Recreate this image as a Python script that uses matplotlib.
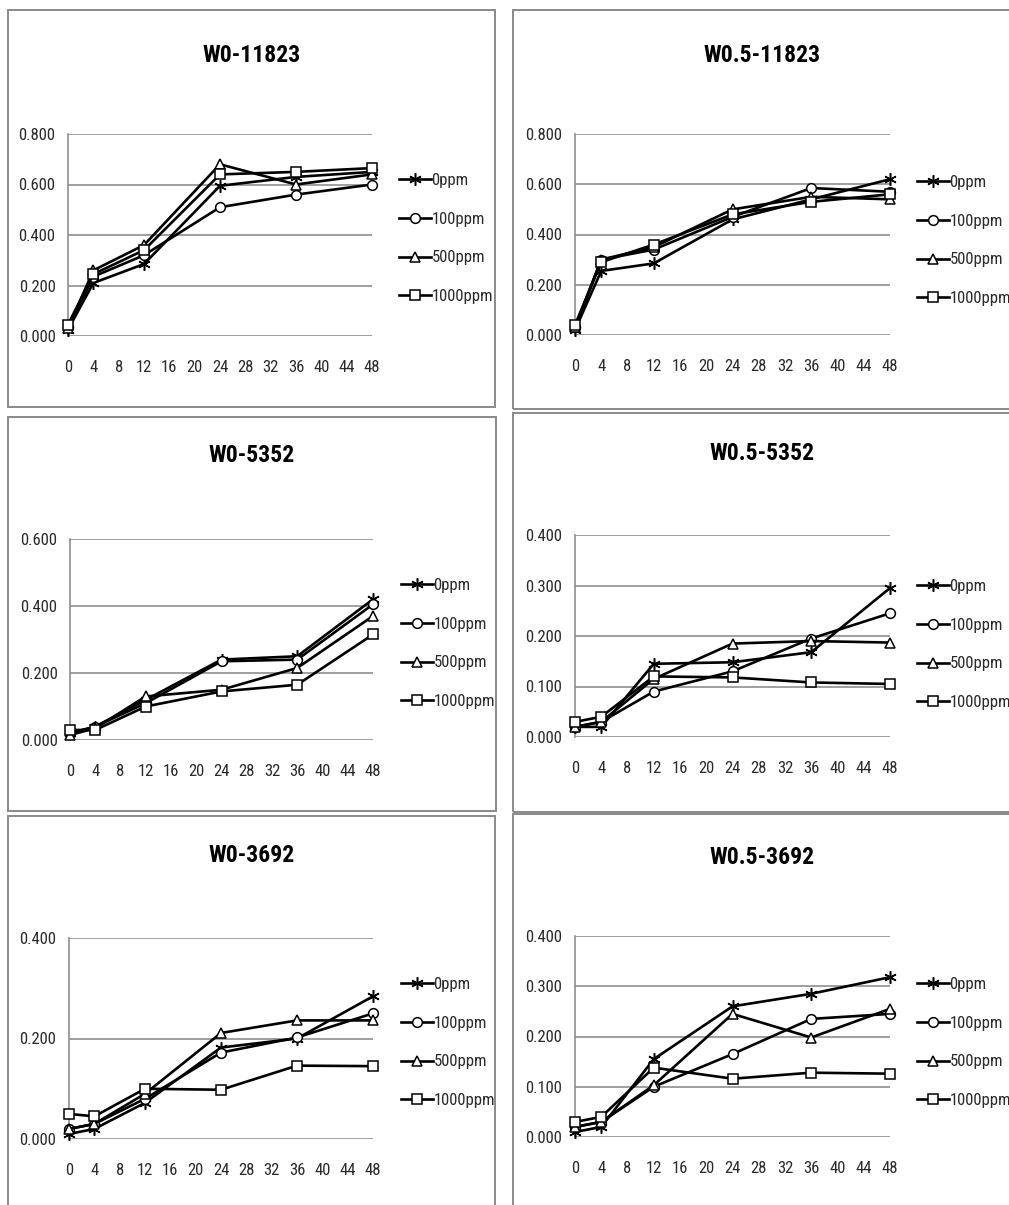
import matplotlib
matplotlib.use("Agg")
import matplotlib.pyplot as plt
from matplotlib.patches import Rectangle
from matplotlib import font_manager as fm

# ---------------- data ----------------
hours = [0, 4, 12, 24, 36, 48]
series_labels = ["0ppm", "100ppm", "500ppm", "1000ppm"]
x_ticks = list(range(0, 49, 4))

titles = ["W0-11823", "W0.5-11823", "W0-5352", "W0.5-5352", "W0-3692", "W0.5-3692"]

w0_11823_0 = [0.025, 0.210, 0.285, 0.595, 0.630, 0.650]
w0_11823_100 = [0.035, 0.235, 0.320, 0.510, 0.560, 0.600]
w0_11823_500 = [0.030, 0.260, 0.360, 0.680, 0.600, 0.640]
w0_11823_1000 = [0.045, 0.245, 0.340, 0.640, 0.650, 0.665]

w05_11823_0 = [0.020, 0.255, 0.285, 0.460, 0.540, 0.620]
w05_11823_100 = [0.030, 0.300, 0.340, 0.470, 0.585, 0.570]
w05_11823_500 = [0.030, 0.300, 0.350, 0.500, 0.550, 0.540]
w05_11823_1000 = [0.040, 0.290, 0.360, 0.480, 0.530, 0.560]

w0_5352_0 = [0.020, 0.040, 0.120, 0.240, 0.250, 0.420]
w0_5352_100 = [0.020, 0.040, 0.110, 0.235, 0.240, 0.405]
w0_5352_500 = [0.015, 0.035, 0.130, 0.150, 0.215, 0.370]
w0_5352_1000 = [0.030, 0.030, 0.100, 0.145, 0.165, 0.315]

w05_5352_0 = [0.020, 0.020, 0.145, 0.148, 0.168, 0.295]
w05_5352_100 = [0.020, 0.030, 0.090, 0.130, 0.195, 0.245]
w05_5352_500 = [0.020, 0.030, 0.115, 0.185, 0.190, 0.187]
w05_5352_1000 = [0.030, 0.040, 0.120, 0.118, 0.108, 0.105]

w0_3692_0 = [0.010, 0.020, 0.072, 0.182, 0.200, 0.284]
w0_3692_100 = [0.020, 0.030, 0.080, 0.172, 0.202, 0.250]
w0_3692_500 = [0.020, 0.030, 0.090, 0.211, 0.236, 0.236]
w0_3692_1000 = [0.050, 0.045, 0.100, 0.098, 0.146, 0.145]

w05_3692_0 = [0.010, 0.020, 0.155, 0.260, 0.285, 0.318]
w05_3692_100 = [0.020, 0.030, 0.100, 0.165, 0.235, 0.245]
w05_3692_500 = [0.020, 0.030, 0.103, 0.245, 0.198, 0.255]
w05_3692_1000 = [0.030, 0.040, 0.138, 0.116, 0.128, 0.126]

panel_series = [
    [w0_11823_0, w0_11823_100, w0_11823_500, w0_11823_1000],
    [w05_11823_0, w05_11823_100, w05_11823_500, w05_11823_1000],
    [w0_5352_0, w0_5352_100, w0_5352_500, w0_5352_1000],
    [w05_5352_0, w05_5352_100, w05_5352_500, w05_5352_1000],
    [w0_3692_0, w0_3692_100, w0_3692_500, w0_3692_1000],
    [w05_3692_0, w05_3692_100, w05_3692_500, w05_3692_1000],
]
y_ticks = [
    [0.0, 0.2, 0.4, 0.6, 0.8],
    [0.0, 0.2, 0.4, 0.6, 0.8],
    [0.0, 0.2, 0.4, 0.6],
    [0.0, 0.1, 0.2, 0.3, 0.4],
    [0.0, 0.2, 0.4],
    [0.0, 0.1, 0.2, 0.3, 0.4],
]

# ---------------- fonts ----------------
def pick(names):
    for n in names:
        try:
            fm.findfont(fm.FontProperties(family=n), fallback_to_default=False)
            return n
        except Exception:
            pass
    return "DejaVu Sans"

narrow = pick(["Liberation Sans Narrow", "DejaVu Sans Condensed", "Roboto Condensed", "Liberation Sans"])

W, H = 1009, 1205
fig = plt.figure(figsize=(W / 100, H / 100), dpi=100)
fig.patch.set_facecolor("white")

def fx(x):
    return x / W

def fy(y):
    return 1 - y / H

# panel boxes (px): left, top, right, bottom
boxes = [
    (8, 10, 495, 407), (513, 10, 1015, 409),
    (8, 417, 496, 811), (513, 413, 1015, 812),
    (8, 816, 495, 1213), (513, 814, 1015, 1213),
]
# plot areas (px): left, top, right, bottom
areas = [
    (68, 134, 372, 336), (575, 134, 890, 335),
    (70, 539, 373, 740), (575, 535, 890, 737),
    (69, 938, 373, 1139), (575, 936, 890, 1137),
]
title_y = [55, 55, 455, 453, 855, 857]
legend_x = [400, 918, 402, 918, 402, 918]
legend_y0 = [181, 183, 586, 587, 985, 985]

markers = [(6, 2, 0), "o", "^", "s"]
msizes = [9, 7, 7.5, 7.5]
grid_c = "#8f8f8f"

for i in range(6):
    l, t, r, b = boxes[i]
    fig.add_artist(Rectangle((fx(l), fy(b)), fx(r) - fx(l), fy(t) - fy(b),
                             transform=fig.transFigure, fill=False,
                             edgecolor="#8a8a8a", linewidth=1.4))
    cx = (l + r) / 2 if i % 2 == 0 else 762
    fig.text(fx(cx), fy(title_y[i]), titles[i], ha="center", va="center",
             fontsize=17, fontweight="bold", family=narrow, color="black")

    al, at, ar, ab = areas[i]
    ax = fig.add_axes([fx(al), fy(ab), fx(ar) - fx(al), fy(at) - fy(ab)])
    yt = y_ticks[i]
    ax.set_xlim(0, 48)
    ax.set_ylim(yt[0], yt[-1])
    ax.set_yticks(yt)
    ax.set_yticklabels([f"{v:.3f}" for v in yt])
    ax.set_xticks(x_ticks)
    ax.set_xticklabels([str(v) for v in x_ticks])
    for s in ["top", "right", "bottom"]:
        ax.spines[s].set_visible(False)
    ax.spines["left"].set_color(grid_c)
    ax.spines["left"].set_linewidth(1.2)
    ax.grid(axis="y", color=grid_c, linewidth=1.2)
    ax.set_axisbelow(True)
    ax.tick_params(axis="both", length=0, labelsize=12, labelcolor="#2a2a2a")
    ax.tick_params(axis="x", pad=17)
    ax.tick_params(axis="y", pad=9)
    for lab in ax.get_xticklabels() + ax.get_yticklabels():
        lab.set_family(narrow)

    handles = []
    for k, vals in enumerate(panel_series[i]):
        h, = ax.plot(hours, vals, color="black", linewidth=1.9,
                     marker=markers[k], markersize=msizes[k],
                     markerfacecolor="white", markeredgecolor="black",
                     markeredgewidth=1.1, clip_on=False, zorder=3 + k,
                     label=series_labels[k])
        handles.append(h)

    leg = fig.legend(handles=handles, labels=series_labels,
                     loc="upper left",
                     bbox_to_anchor=(fx(legend_x[i] - 1), fy(legend_y0[i] - 8)),
                     frameon=False, handlelength=1.9, handletextpad=0.05,
                     labelspacing=1.42, borderpad=0, borderaxespad=0,
                     prop={"family": narrow, "size": 12})
    for txt in leg.get_texts():
        txt.set_color("#2a2a2a")

fig.savefig("out.png", dpi=100, facecolor="white")
